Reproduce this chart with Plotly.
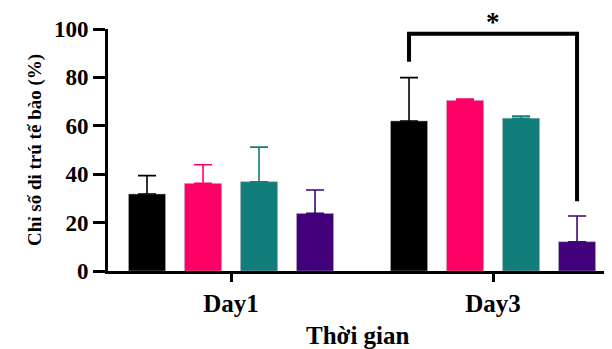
import plotly.graph_objects as go

categories = ["Day1", "Day3"]
series_colors = ["#000000", "#FF0066", "#127E7C", "#410079"]
series_names = ["Group 1", "Group 2", "Group 3", "Group 4"]
values = [
    [31.8, 62.0],
    [36.2, 70.5],
    [36.9, 63.1],
    [23.8, 12.1],
]
err_top = [
    [39.4, 79.9],
    [43.9, 71.1],
    [51.2, 64.0],
    [33.5, 22.7],
]
y_ticks = [0, 20, 40, 60, 80, 100]
# significance bracket: (category index, first series, second series, top, left end, right end, label)
sig_cat = 1
sig_series = (0, 3)
sig_top = 98.0
sig_left_end = 86.5
sig_right_end = 28.8
sig_label = "*"

FONT = "Liberation Serif, Times New Roman, serif"
bargap = 0.145
n = len(values)

fig = go.Figure()
for i in range(n):
    fig.add_trace(go.Bar(
        x=categories,
        y=values[i],
        name=series_names[i],
        marker=dict(color=series_colors[i], line=dict(color="rgba(170,170,170,0.55)", width=1)),
        error_y=dict(
            type="data", symmetric=False,
            array=[t - v for t, v in zip(err_top[i], values[i])],
            arrayminus=[0] * len(values[i]),
            color=series_colors[i], thickness=1.6, width=9,
        ),
        showlegend=False,
    ))

slot = (1 - bargap) / n
def bar_center(cat, s):
    return cat + (s - (n - 1) / 2) * slot

xl = bar_center(sig_cat, sig_series[0])
xr = bar_center(sig_cat, sig_series[1])
fig.add_shape(type="path",
              path=f"M {xl},{sig_left_end} L {xl},{sig_top} L {xr},{sig_top} L {xr},{sig_right_end}",
              xref="x", yref="y", line=dict(color="black", width=4))
fig.add_annotation(x=sig_cat, xref="x", y=1.095, yref="paper", text=f"<b>{sig_label}</b>",
                   showarrow=False, font=dict(family=FONT, size=27, color="black"),
                   yanchor="top", borderpad=0)

fig.add_annotation(x=-0.1706, xref="paper", y=0.5, yref="paper", textangle=-90,
                   text="<b>Chỉ số di trú tế bào (%)</b>", showarrow=False,
                   font=dict(family=FONT, size=19, color="black"))
fig.add_annotation(x=0.497, xref="paper", y=-0.2645, yref="paper", yanchor="middle",
                   text="<b>Thời gian</b>", showarrow=False,
                   font=dict(family=FONT, size=25, color="black"))

fig.update_layout(
    width=604, height=341,
    margin=dict(l=100, r=0, t=21, b=78),
    paper_bgcolor="white", plot_bgcolor="white",
    barmode="group", bargap=bargap, bargroupgap=0.34,
    xaxis=dict(range=[-0.4695, 1.454], showline=True, linecolor="black", linewidth=3,
               tickvals=categories, ticktext=[f"<b>{c}</b>" for c in categories],
               ticks="outside", ticklen=8, tickwidth=2.5, tickcolor="black",
               tickfont=dict(family=FONT, size=25, color="black"),
               showgrid=False, zeroline=False, fixedrange=True),
    yaxis=dict(range=[0, 100], tickvals=y_ticks, ticktext=[f"<b>{t}</b>" for t in y_ticks],
               showline=True, linecolor="black", linewidth=3,
               ticks="outside", ticklen=12, tickwidth=2.5, tickcolor="black",
               tickfont=dict(family=FONT, size=23, color="black"),
               showgrid=False, zeroline=False),
)

fig.write_html("out.html")
